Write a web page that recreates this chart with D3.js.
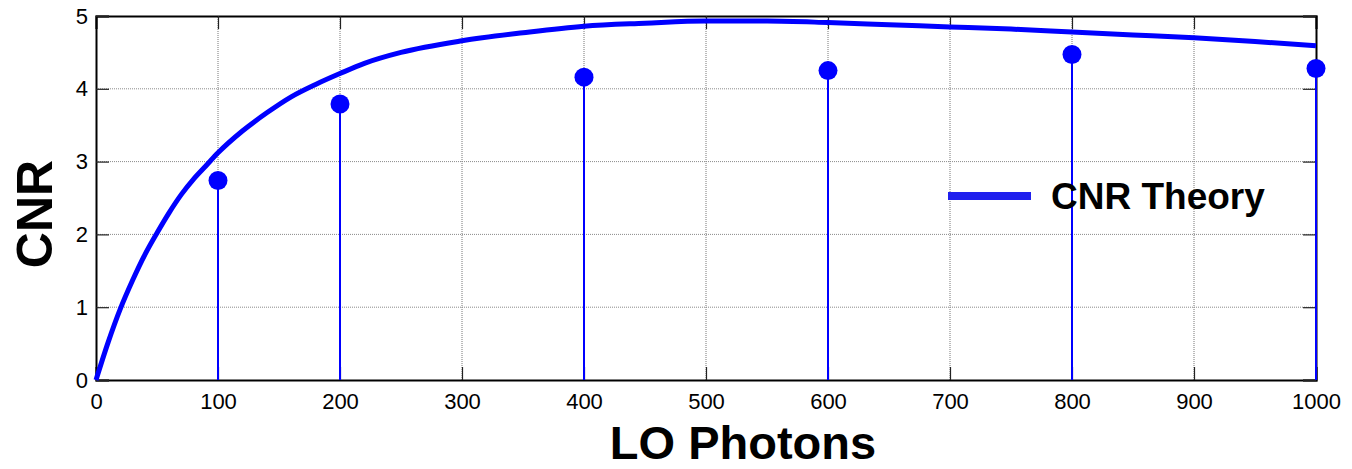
<!DOCTYPE html>
<html>
<head>
<meta charset="utf-8">
<script src="https://cdn.jsdelivr.net/npm/d3@7"></script>
<style>
  html, body { margin: 0; padding: 0; background: #fff; }
  svg { display: block; font-family: Arial, "Liberation Sans", sans-serif; }
</style>
</head>
<body>
<svg id="chart" width="1352" height="469"></svg>
<script>
// ---- data ----
const curveX = [0, 10, 20, 30, 40, 50, 60, 70, 80, 90, 100, 120, 140, 160, 180, 200, 220, 250, 300, 350, 400, 450, 500, 550, 600, 650, 700, 750, 800, 850, 900, 950, 1000];
const curveY = [0, 0.52, 0.98, 1.37, 1.72, 2.02, 2.30, 2.55, 2.76, 2.94, 3.12, 3.42, 3.67, 3.89, 4.06, 4.21, 4.35, 4.50, 4.66, 4.77, 4.86, 4.90, 4.93, 4.93, 4.91, 4.88, 4.85, 4.82, 4.78, 4.74, 4.70, 4.65, 4.59];
const stemX = [100, 200, 400, 600, 800, 1000];
const stemY = [2.74, 3.79, 4.16, 4.25, 4.47, 4.28];
const xTicks = [0, 100, 200, 300, 400, 500, 600, 700, 800, 900, 1000];
const yTicks = [0, 1, 2, 3, 4, 5];
const xLabel = "LO Photons";
const yLabel = "CNR";
const legendLabel = "CNR Theory";

// ---- layout ----
const W = 1352, H = 469;
const m = { left: 96, right: 36, top: 16, bottom: 89 };
const svg = d3.select("#chart");
const x = d3.scaleLinear().domain([0, 1000]).range([m.left, W - m.right]);
const y = d3.scaleLinear().domain([0, 5]).range([H - m.bottom, m.top]);

const g = svg.append("g");

// grid
g.append("g").selectAll("line").data(xTicks.slice(1, -1)).join("line")
  .attr("x1", d => x(d)).attr("x2", d => x(d))
  .attr("y1", y(0)).attr("y2", y(5))
  .attr("stroke", "#777").attr("stroke-width", 1).attr("stroke-dasharray", "1,1");
g.append("g").selectAll("line").data(yTicks.slice(1, -1)).join("line")
  .attr("y1", d => y(d)).attr("y2", d => y(d))
  .attr("x1", x(0)).attr("x2", x(1000))
  .attr("stroke", "#8a8a8a").attr("stroke-width", 1).attr("stroke-dasharray", "1,1");

// axes (inward ticks, box)
const tickLen = 13;
const xAxisB = d3.axisBottom(x).tickValues(xTicks).tickSize(-tickLen).tickPadding(13).tickFormat(d3.format("d"));
const xAxisT = d3.axisTop(x).tickValues(xTicks).tickSize(-tickLen).tickFormat("");
const yAxisL = d3.axisLeft(y).tickValues(yTicks).tickSize(-tickLen).tickPadding(8).tickFormat(d3.format("d"));
const yAxisR = d3.axisRight(y).tickValues(yTicks).tickSize(-tickLen).tickFormat("");

function styleAxis(sel) {
  sel.select(".domain").attr("stroke", "#000").attr("stroke-width", 2);
  sel.selectAll(".tick line").attr("stroke", "#222").attr("stroke-width", 1.2);
  sel.selectAll(".tick text").attr("fill", "#000").style("font-size", "22px")
     .style("font-family", "Arial, 'Liberation Sans', sans-serif");
}

g.append("g").attr("transform", `translate(0,${y(0)})`).call(xAxisB).call(styleAxis);
g.append("g").attr("transform", `translate(0,${y(5)})`).call(xAxisT).call(styleAxis);
g.append("g").attr("transform", `translate(${x(0)},0)`).call(yAxisL).call(styleAxis);
g.append("g").attr("transform", `translate(${x(1000)},0)`).call(yAxisR).call(styleAxis);

// stems
const blue = "#0000ff";
g.append("g").selectAll("line").data(stemX).join("line")
  .attr("x1", d => x(d)).attr("x2", d => x(d))
  .attr("y1", y(0)).attr("y2", (d, i) => y(stemY[i]))
  .attr("stroke", blue).attr("stroke-width", 2);
g.append("g").selectAll("circle").data(stemX).join("circle")
  .attr("cx", d => x(d)).attr("cy", (d, i) => y(stemY[i]))
  .attr("r", 9.5).attr("fill", blue);

// theory curve
const line = d3.line().x(d => x(d[0])).y(d => y(d[1])).curve(d3.curveMonotoneX);
g.append("path").datum(curveX.map((d, i) => [d, curveY[i]]))
  .attr("d", line).attr("fill", "none").attr("stroke", blue)
  .attr("stroke-width", 5).attr("stroke-linejoin", "round");

// legend
const leg = g.append("g");
leg.append("line").attr("x1", 948).attr("x2", 1031).attr("y1", 196).attr("y2", 196)
  .attr("stroke", "#2020ee").attr("stroke-width", 8);
leg.append("text").attr("x", 1051).attr("y", 209).text(legendLabel)
  .attr("font-weight", "bold").style("font-size", "37px").attr("fill", "#000");

// axis labels
svg.append("text").attr("x", 743).attr("y", 459)
  .attr("text-anchor", "middle").attr("font-weight", "bold").style("font-size", "47px")
  .text(xLabel);
svg.append("text").attr("transform", `translate(52,214) rotate(-90)`)
  .attr("text-anchor", "middle").attr("font-weight", "bold").style("font-size", "50px")
  .text(yLabel);
</script>
</body>
</html>
